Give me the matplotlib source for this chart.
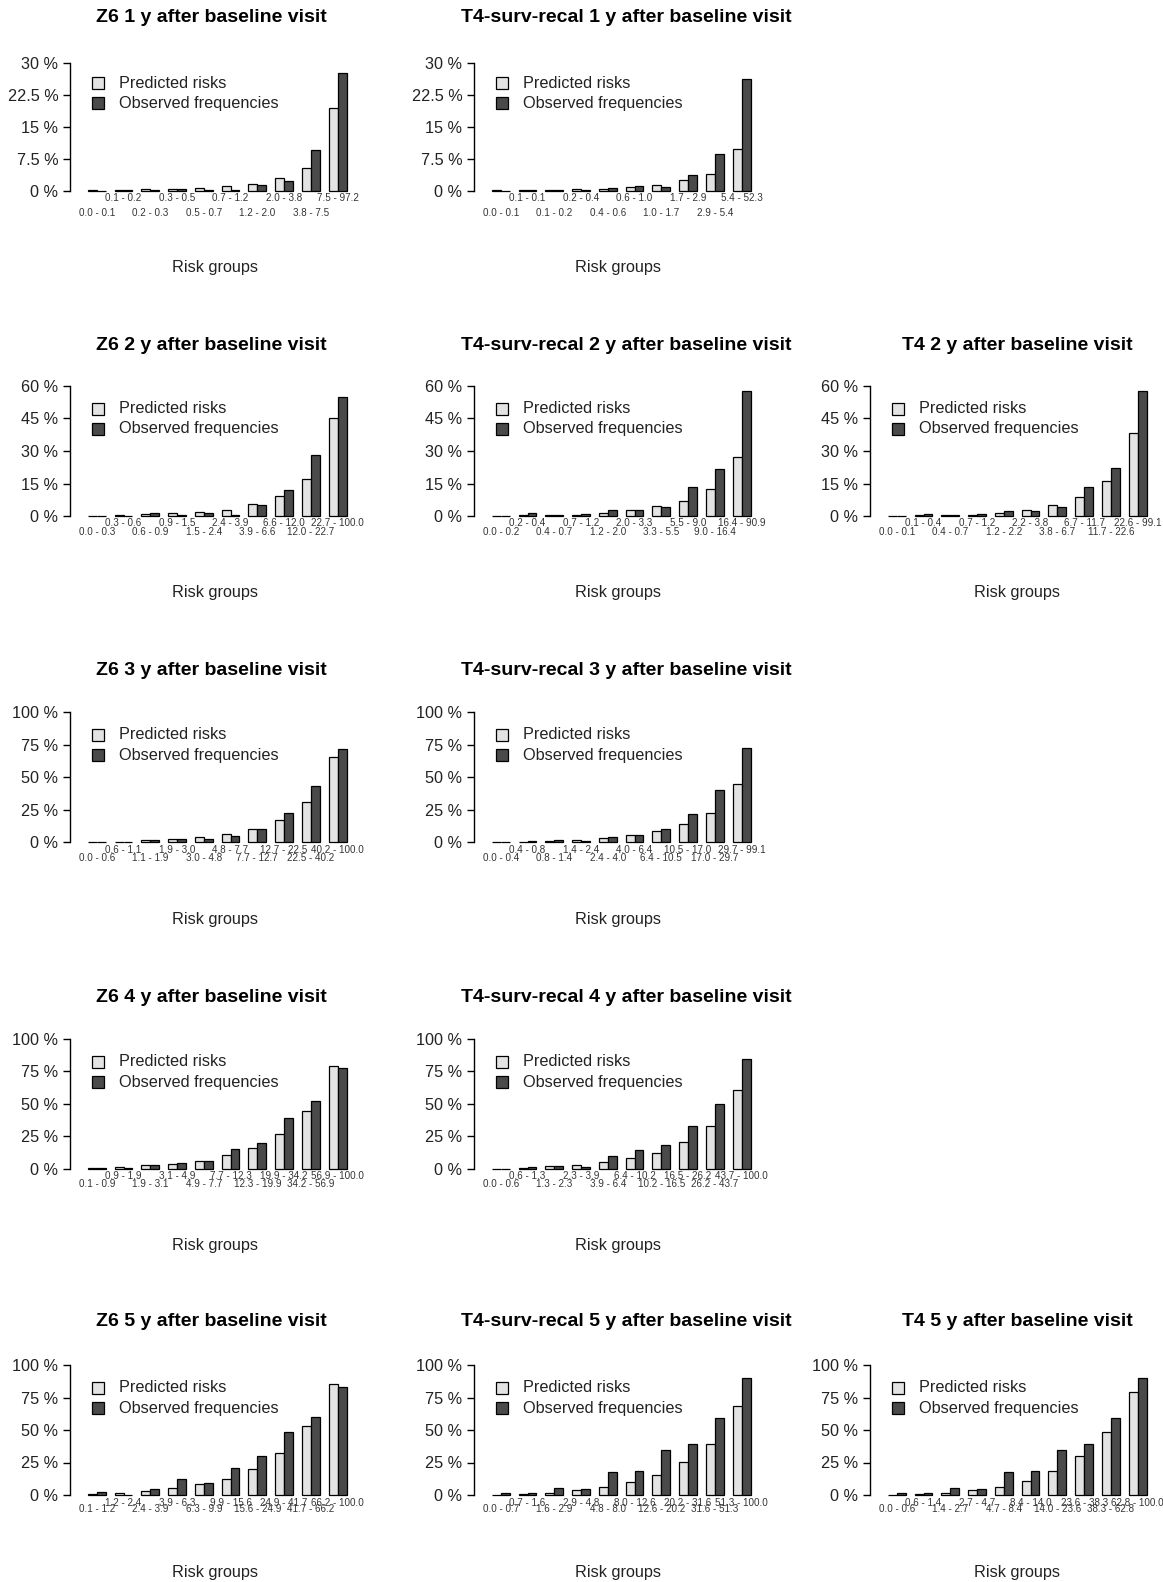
import numpy as np
import matplotlib.pyplot as plt
from matplotlib.patches import Rectangle

plt.rcParams['font.family'] = ['Liberation Sans', 'DejaVu Sans']

W, H = 1163, 1582

# ---- data: predicted risks / observed frequencies (%) per risk group ----
z6_1y_groups = ["0.0 - 0.1", "0.1 - 0.2", "0.2 - 0.3", "0.3 - 0.5", "0.5 - 0.7",
                "0.7 - 1.2", "1.2 - 2.0", "2.0 - 3.8", "3.8 - 7.5", "7.5 - 97.2"]
z6_1y_pred = [0.1, 0.15, 0.3, 0.4, 0.6, 1.0, 1.6, 2.9, 5.4, 19.4]
z6_1y_obs = [0.0, 0.05, 0.2, 0.5, 0.1, 0.1, 1.25, 2.4, 9.7, 27.6]

t4sr_1y_groups = ["0.0 - 0.1", "0.1 - 0.1", "0.1 - 0.2", "0.2 - 0.4", "0.4 - 0.6",
                  "0.6 - 1.0", "1.0 - 1.7", "1.7 - 2.9", "2.9 - 5.4", "5.4 - 52.3"]
t4sr_1y_pred = [0.05, 0.1, 0.2, 0.3, 0.5, 0.9, 1.4, 2.6, 4.0, 9.8]
t4sr_1y_obs = [0.0, 0.05, 0.1, 0.2, 0.6, 1.2, 0.8, 3.7, 8.6, 26.4]

z6_2y_groups = ["0.0 - 0.3", "0.3 - 0.6", "0.6 - 0.9", "0.9 - 1.5", "1.5 - 2.4",
                "2.4 - 3.9", "3.9 - 6.6", "6.6 - 12.0", "12.0 - 22.7", "22.7 - 100.0"]
z6_2y_pred = [0.1, 0.4, 0.8, 1.2, 2.0, 3.0, 5.6, 9.4, 16.9, 45.4]
z6_2y_obs = [0.0, 0.2, 1.2, 0.5, 1.5, 0.4, 5.0, 12.0, 28.0, 54.8]

t4sr_2y_groups = ["0.0 - 0.2", "0.2 - 0.4", "0.4 - 0.7", "0.7 - 1.2", "1.2 - 2.0",
                  "2.0 - 3.3", "3.3 - 5.5", "5.5 - 9.0", "9.0 - 16.4", "16.4 - 90.9"]
t4sr_2y_pred = [0.2, 0.6, 0.5, 0.4, 1.5, 2.9, 4.6, 7.0, 12.3, 27.2]
t4sr_2y_obs = [0.1, 1.2, 0.6, 0.9, 2.6, 2.6, 4.3, 13.2, 21.7, 57.7]

t4_2y_groups = ["0.0 - 0.1", "0.1 - 0.4", "0.4 - 0.7", "0.7 - 1.2", "1.2 - 2.2",
                "2.2 - 3.8", "3.8 - 6.7", "6.7 - 11.7", "11.7 - 22.6", "22.6 - 99.1"]
t4_2y_pred = [0.1, 0.4, 0.5, 0.5, 1.5, 3.0, 5.1, 8.9, 16.0, 38.3]
t4_2y_obs = [0.0, 1.0, 0.5, 0.8, 2.3, 2.3, 4.0, 13.3, 22.0, 57.7]

z6_3y_groups = ["0.0 - 0.6", "0.6 - 1.1", "1.1 - 1.9", "1.9 - 3.0", "3.0 - 4.8",
                "4.8 - 7.7", "7.7 - 12.7", "12.7 - 22.5", "22.5 - 40.2", "40.2 - 100.0"]
z6_3y_pred = [0.2, 0.5, 1.5, 2.8, 4.1, 6.5, 10.1, 17.3, 31.0, 65.6]
z6_3y_obs = [0.1, 0.3, 1.8, 2.8, 2.8, 4.9, 10.6, 22.7, 43.2, 71.6]

t4sr_3y_groups = ["0.0 - 0.4", "0.4 - 0.8", "0.8 - 1.4", "1.4 - 2.4", "2.4 - 4.0",
                  "4.0 - 6.4", "6.4 - 10.5", "10.5 - 17.0", "17.0 - 29.7", "29.7 - 99.1"]
t4sr_3y_pred = [0.1, 0.6, 1.1, 1.8, 3.2, 5.3, 8.5, 13.7, 22.2, 45.2]
t4sr_3y_obs = [0.0, 1.0, 1.6, 0.9, 4.4, 5.9, 10.2, 21.7, 39.9, 72.6]

z6_4y_groups = ["0.1 - 0.9", "0.9 - 1.9", "1.9 - 3.1", "3.1 - 4.9", "4.9 - 7.7",
                "7.7 - 12.3", "12.3 - 19.9", "19.9 - 34.2", "34.2 - 56.9", "56.9 - 100.0"]
z6_4y_pred = [0.5, 1.0, 2.6, 3.6, 6.0, 10.3, 15.9, 26.5, 44.7, 79.4]
z6_4y_obs = [0.2, 0.3, 2.6, 4.1, 5.6, 15.1, 19.6, 39.1, 52.1, 77.4]

t4sr_4y_groups = ["0.0 - 0.6", "0.6 - 1.3", "1.3 - 2.3", "2.3 - 3.9", "3.9 - 6.4",
                  "6.4 - 10.2", "10.2 - 16.5", "16.5 - 26.2", "26.2 - 43.7", "43.7 - 100.0"]
t4sr_4y_pred = [0.1, 0.7, 1.8, 2.8, 5.1, 8.0, 12.3, 20.8, 33.2, 61.0]
t4sr_4y_obs = [0.0, 1.5, 2.3, 1.5, 10.0, 14.4, 17.9, 33.2, 50.1, 84.5]

z6_5y_groups = ["0.1 - 1.2", "1.2 - 2.4", "2.4 - 3.9", "3.9 - 6.3", "6.3 - 9.9",
                "9.9 - 15.6", "15.6 - 24.9", "24.9 - 41.7", "41.7 - 66.2", "66.2 - 100.0"]
z6_5y_pred = [0.8, 1.8, 3.1, 5.1, 8.2, 12.3, 20.0, 32.6, 53.1, 85.4]
z6_5y_obs = [2.3, 0.3, 4.3, 12.3, 9.2, 20.6, 30.3, 48.7, 60.1, 83.1]

t4sr_5y_groups = ["0.0 - 0.7", "0.7 - 1.6", "1.6 - 2.9", "2.9 - 4.8", "4.8 - 8.0",
                  "8.0 - 12.6", "12.6 - 20.2", "20.2 - 31.6", "31.6 - 51.3", "51.3 - 100.0"]
t4sr_5y_pred = [0.3, 1.0, 1.8, 3.8, 6.4, 10.0, 15.6, 25.1, 39.5, 68.2]
t4sr_5y_obs = [1.5, 1.5, 5.1, 4.4, 17.4, 18.7, 34.4, 39.5, 59.5, 90.3]

t4_5y_groups = ["0.0 - 0.6", "0.6 - 1.4", "1.4 - 2.7", "2.7 - 4.7", "4.7 - 8.4",
                "8.4 - 14.0", "14.0 - 23.6", "23.6 - 38.3", "38.3 - 62.8", "62.8 - 100.0"]
t4_5y_pred = [0.3, 0.8, 1.8, 3.6, 6.2, 10.5, 18.2, 30.3, 48.7, 79.5]
t4_5y_obs = [1.5, 1.5, 5.1, 4.3, 17.4, 18.7, 34.4, 39.5, 59.5, 90.3]

ticks_1y = [0, 7.5, 15, 22.5, 30]
ticks_2y = [0, 15, 30, 45, 60]
ticks_3y = [0, 25, 50, 75, 100]

# (row, col, title, groups, pred, obs, y ticks)
panels = [
    (0, 0, "Z6 1 y after baseline visit", z6_1y_groups, z6_1y_pred, z6_1y_obs, ticks_1y),
    (0, 1, "T4-surv-recal 1 y after baseline visit", t4sr_1y_groups, t4sr_1y_pred, t4sr_1y_obs, ticks_1y),
    (1, 0, "Z6 2 y after baseline visit", z6_2y_groups, z6_2y_pred, z6_2y_obs, ticks_2y),
    (1, 1, "T4-surv-recal 2 y after baseline visit", t4sr_2y_groups, t4sr_2y_pred, t4sr_2y_obs, ticks_2y),
    (1, 2, "T4 2 y after baseline visit", t4_2y_groups, t4_2y_pred, t4_2y_obs, ticks_2y),
    (2, 0, "Z6 3 y after baseline visit", z6_3y_groups, z6_3y_pred, z6_3y_obs, ticks_3y),
    (2, 1, "T4-surv-recal 3 y after baseline visit", t4sr_3y_groups, t4sr_3y_pred, t4sr_3y_obs, ticks_3y),
    (3, 0, "Z6 4 y after baseline visit", z6_4y_groups, z6_4y_pred, z6_4y_obs, ticks_3y),
    (3, 1, "T4-surv-recal 4 y after baseline visit", t4sr_4y_groups, t4sr_4y_pred, t4sr_4y_obs, ticks_3y),
    (4, 0, "Z6 5 y after baseline visit", z6_5y_groups, z6_5y_pred, z6_5y_obs, ticks_3y),
    (4, 1, "T4-surv-recal 5 y after baseline visit", t4sr_5y_groups, t4sr_5y_pred, t4sr_5y_obs, ticks_3y),
    (4, 2, "T4 5 y after baseline visit", t4_5y_groups, t4_5y_pred, t4_5y_obs, ticks_3y),
]

# layout in pixels
col_x = [70, 474, 870]
title_cx = [211, 626, 1017]
label_cx = [215, 618, 1017]
row_zero = [190.7, 516, 842.3, 1168.7, 1495]
row_top = [63.3, 386, 712.3, 1039, 1365]
title_y = [18, 345, 670, 997, 1322]
low_label_off = [22, 16, 16, 15.5, 14.5]
unit = 8.92
PT = 0.72  # px -> pt at dpi 100

light = "#e3e3e3"
dark = "#4a4a4a"

fig = plt.figure(figsize=(W / 100, H / 100), dpi=100)


def fig_xy(x, y):
    return x / W, 1 - y / H


for row, col, title, groups, pred, obs, ticks in panels:
    x0 = col_x[col]
    zero = row_zero[row]
    top = row_top[row]
    ymax = ticks[-1]
    hpx = zero - top
    pad = 0.04 * hpx
    width = 32 * unit
    ax = fig.add_axes([x0 / W, 1 - (zero + pad) / H, width / W, (hpx + 2 * pad) / H])
    ax.set_xlim(-1, 31)
    ax.set_ylim(-0.04 * ymax, 1.04 * ymax)

    idx = np.arange(len(groups))
    ax.bar(3 * idx + 1, pred, width=1, align='edge', color=light,
           edgecolor='black', linewidth=0.9)
    ax.bar(3 * idx + 2, obs, width=1, align='edge', color=dark,
           edgecolor='black', linewidth=0.9)

    for s in ['top', 'right', 'bottom']:
        ax.spines[s].set_visible(False)
    ax.spines['left'].set_bounds(0, ymax)
    ax.spines['left'].set_linewidth(1.0)
    ax.set_xticks([])
    ax.set_yticks(ticks)
    ax.set_yticklabels([f"{t:g} %" for t in ticks])
    ax.tick_params(axis='y', length=5, width=1.0, pad=3.3,
                   labelsize=11.7, labelcolor='#222222')
    ax.patch.set_visible(False)

    # staggered group labels under the bars
    for i, g in enumerate(groups):
        off = 7.5 if i % 2 == 1 else low_label_off[row]
        ax.annotate(g, xy=(3 * i + 2, 0), xytext=(0, -off * PT),
                    textcoords='offset points', ha='center', va='center',
                    fontsize=7.1, color='#333333', annotation_clip=False)

    fig.text(*fig_xy(title_cx[col], title_y[row]), title, ha='center', va='center',
             fontsize=14, fontweight='bold')
    fig.text(*fig_xy(label_cx[col], zero + 77), "Risk groups", ha='center', va='center',
             fontsize=11.7, color='#222222')

    # legend
    leg_off = [20, 40] if row == 0 else [22.5, 43]
    for k, (lab, c) in enumerate([("Predicted risks", light), ("Observed frequencies", dark)]):
        yc = top + leg_off[k]
        bx, by = fig_xy(x0 + 22, yc + 6)
        fig.patches.append(Rectangle((bx, by), 12 / W, 12 / H, transform=fig.transFigure,
                                     facecolor=c, edgecolor='black', linewidth=0.9))
        fig.text(*fig_xy(x0 + 49, yc), lab, ha='left', va='center',
                 fontsize=11.7, color='#222222')

fig.savefig("out.png", dpi=100, facecolor='white')
